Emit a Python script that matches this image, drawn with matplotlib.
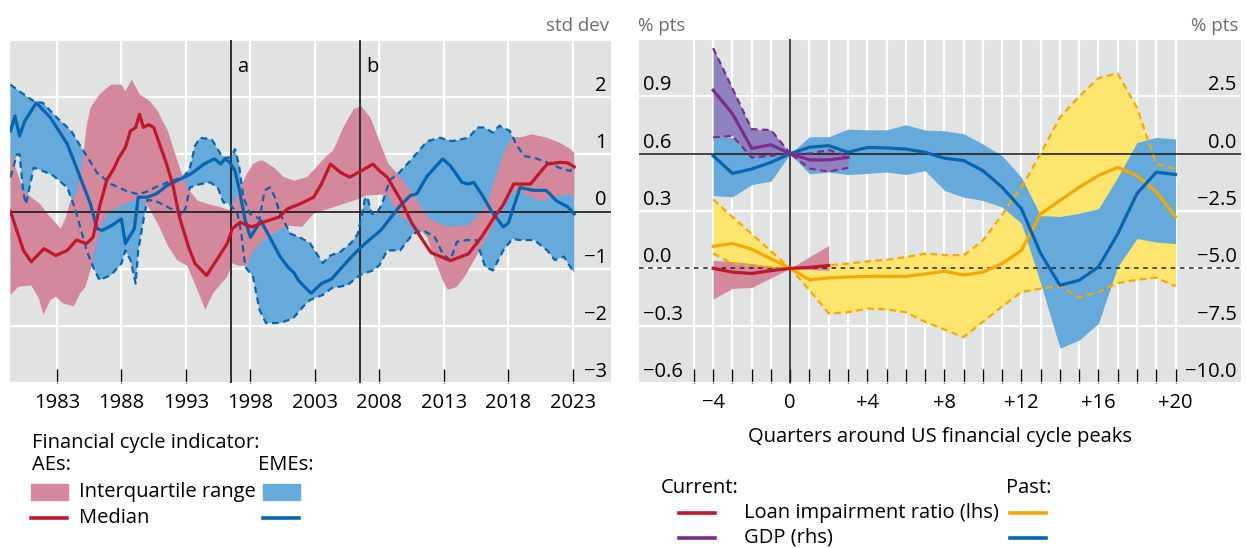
import numpy as np
import matplotlib.pyplot as plt
from matplotlib.lines import Line2D
from matplotlib.patches import Rectangle

plt.rcParams['font.family'] = ['Open Sans', 'DejaVu Sans']

# ---------------- left panel: financial cycle indicator (std dev) ----------------
ae_med_yr = [1979.4, 1980.4, 1981.0, 1982.0, 1982.9, 1983.8, 1984.5, 1985.3, 1985.8, 1986.3,
             1986.85, 1987.4, 1987.8, 1988.3, 1988.7, 1989.1, 1989.4, 1989.7, 1990.1, 1990.5,
             1991.0, 1991.5, 1992.0, 1992.5, 1993.2, 1993.7, 1994.6, 1995.2, 1996.2, 1996.6,
             1997.2, 1998.1, 1999.2, 2000.2, 2000.9, 2001.8, 2002.9, 2003.5, 2004.2, 2005.0,
             2005.7, 2006.5, 2007.5, 2008.0, 2008.6, 2009.6, 2010.5, 2011.2, 2012.0, 2013.5,
             2014.9, 2015.9, 2016.9, 2017.6, 2018.4, 2019.7, 2021.0, 2022.0, 2022.6, 2023.1]
ae_med = [0.0, -0.68, -0.88, -0.65, -0.77, -0.68, -0.5, -0.56, -0.45, 0.08,
          0.54, 0.75, 0.94, 1.12, 1.41, 1.47, 1.70, 1.47, 1.52, 1.47,
          1.15, 0.83, 0.45, -0.1, -0.62, -0.91, -1.12, -0.91, -0.56, -0.3,
          -0.19, -0.27, -0.17, -0.1, 0.05, 0.13, 0.25, 0.48, 0.83, 0.68,
          0.6, 0.7, 0.83, 0.71, 0.6, 0.22, -0.2, -0.45, -0.72, -0.86,
          -0.74, -0.45, -0.1, 0.12, 0.48, 0.48, 0.83, 0.86, 0.85, 0.78]

ae_hi_yr = [1979.4, 1979.7, 1980.4, 1981.0, 1981.7, 1982.3, 1982.9, 1983.3, 1983.7, 1984.0,
            1984.5, 1985.0, 1985.3, 1985.6, 1986.3, 1987.2, 1988.0, 1988.3, 1988.8, 1989.4,
            1990.2, 1990.8, 1991.6, 1992.0, 1992.6, 1993.1, 1993.9, 1994.7, 1995.6, 1996.4,
            1997.0, 1997.7, 1998.2, 1998.7, 1999.0, 1999.8, 2000.6, 2001.4, 2002.4, 2003.0,
            2003.9, 2004.4, 2005.2, 2006.0, 2006.6, 2007.3, 2008.0, 2008.7, 2009.4, 2010.4,
            2011.7, 2012.5, 2013.3, 2014.0, 2014.8, 2015.5, 2016.3, 2017.0, 2017.6, 2018.3,
            2019.0, 2019.8, 2021.0, 2022.0, 2022.8, 2023.1]
ae_hi = [1.06, 0.83, 0.37, 0.25, 0.13, -0.05, -0.2, -0.3, -0.1, 0.15,
         0.3, 0.9, 1.5, 1.81, 2.05, 2.22, 2.22, 2.1, 2.31, 2.05,
         1.93, 1.76, 1.41, 1.12, 0.71, 0.42, 0.19, 0.13, 0.08, 0.02,
         0.3, 0.65, 0.83, 0.89, 0.89, 0.77, 0.6, 0.54, 0.6, 0.75,
         0.97, 1.06, 1.47, 1.79, 1.84, 1.64, 1.23, 0.83, 0.66, 0.37,
         -0.1, -0.2, -0.27, -0.25, -0.25, -0.1, 0.1, 0.6, 1.0, 1.3,
         1.3, 1.35, 1.29, 1.2, 1.09, 1.03]

ae_lo_yr = [1979.4, 1980.0, 1981.0, 1981.6, 1981.95, 1982.5, 1982.9, 1983.5, 1984.3, 1984.8,
            1985.2, 1985.6, 1986.0, 1986.5, 1987.0, 1988.0, 1989.0, 1989.7, 1990.3, 1991.0,
            1991.6, 1992.3, 1993.1, 1993.8, 1994.5, 1995.1, 1996.2, 1996.6, 1997.0, 1997.7,
            1998.2, 1999.0, 2000.0, 2001.0, 2002.0, 2002.9, 2004.5, 2006.4, 2007.0, 2008.6,
            2009.6, 2010.5, 2011.7, 2012.3, 2012.9, 2013.3, 2014.0, 2014.6, 2015.5, 2016.3,
            2017.0, 2017.6, 2018.0, 2018.6, 2019.2, 2020.4, 2021.5, 2022.6, 2023.1]
ae_lo = [-1.46, -1.32, -1.29, -1.52, -1.81, -1.55, -1.49, -1.61, -1.66, -1.43,
         -1.32, -1.03, -0.6, -0.2, 0.0, 0.1, 0.2, 0.2, 0.0, -0.3,
         -0.6, -0.85, -0.95, -1.32, -1.72, -1.43, -1.14, -0.9, -0.95, -0.95,
         -0.7, -0.5, -0.35, -0.25, -0.27, -0.04, 0.08, 0.22, 0.28, 0.3,
         -0.1, -0.16, -0.45, -0.85, -1.2, -1.37, -1.32, -1.14, -0.79, -0.45,
         -0.16, 0.08, 0.25, 0.37, 0.31, 0.19, 0.25, 0.31, 0.25]

eme_med_yr = [1979.4, 1979.75, 1980.1, 1980.5, 1981.4, 1982.5, 1983.8, 1984.8, 1985.6, 1986.1,
              1986.5, 1987.2, 1988.0, 1988.3, 1989.0, 1989.3, 1990.0, 1990.7, 1991.5, 1992.3,
              1993.4, 1994.4, 1995.2, 1995.7, 1996.0, 1996.4, 1996.8, 1997.1, 1997.6, 1998.0,
              1998.8, 1999.5, 2000.3, 2000.9, 2001.4, 2001.7, 2002.2, 2002.7, 2003.5, 2004.3,
              2005.0, 2005.8, 2006.6, 2007.4, 2008.1, 2008.9, 2009.6, 2010.4, 2010.9, 2011.7,
              2012.9, 2013.5, 2014.4, 2014.9, 2015.3, 2015.9, 2016.7, 2017.6, 2018.0, 2018.4,
              2018.9, 2019.9, 2020.9, 2021.2, 2021.7, 2022.6, 2023.1]
eme_med = [1.41, 1.67, 1.32, 1.58, 1.9, 1.64, 1.18, 0.6, 0.13, -0.3,
           -0.33, -0.25, -0.13, -0.56, -0.3, 0.25, 0.25, 0.31, 0.45, 0.54,
           0.66, 0.83, 0.92, 0.83, 0.92, 0.86, 0.71, 0.42, -0.16, -0.45,
           -0.16, -0.45, -0.79, -0.97, -1.08, -1.2, -1.32, -1.43, -1.26, -1.18,
           -1.0, -0.8, -0.62, -0.46, -0.33, -0.1, 0.1, 0.28, 0.31, 0.62,
           0.92, 0.8, 0.51, 0.48, 0.51, 0.31, 0.0, -0.27, -0.2, 0.08,
           0.42, 0.37, 0.37, 0.31, 0.19, 0.08, -0.04]

eme_hi_yr = [1979.4, 1980.1, 1981.2, 1981.9, 1983.0, 1984.1, 1984.8, 1985.4, 1986.1, 1987.2,
             1988.4, 1989.3, 1990.0, 1990.6, 1991.9, 1992.8, 1993.3, 1993.7, 1994.1, 1995.0,
             1995.7, 1996.1, 1996.5, 1996.8, 1997.1, 1997.45, 1997.96, 1998.7, 1999.1, 1999.5,
             1999.9, 2000.3, 2001.1, 2001.8, 2002.6, 2003.6, 2004.2, 2005.0, 2005.8, 2006.3,
             2006.6, 2006.9, 2007.1, 2007.4, 2007.8, 2008.2, 2008.8, 2009.4, 2010.4, 2011.7,
             2012.7, 2013.6, 2014.9, 2015.6, 2016.1, 2016.8, 2017.3, 2018.1, 2018.6, 2019.2,
             2020.0, 2021.0, 2022.0, 2022.8, 2023.1]
eme_hi = [2.22, 2.1, 1.93, 1.9, 1.64, 1.41, 1.15, 0.94, 0.68, 0.48,
          0.36, 0.3, 0.35, 0.42, 0.54, 0.6, 0.75, 1.15, 1.29, 1.26,
          1.0, 0.94, 0.95, 1.09, 0.83, 0.25, -0.04, -0.13, 0.37, 0.42,
          0.25, -0.04, -0.39, -0.45, -0.55, -0.9, -0.77, -0.7, -0.55, -0.4,
          -0.1, 0.25, 0.22, -0.04, -0.03, 0.13, 0.55, 0.65, 0.89, 1.23,
          1.29, 1.23, 1.29, 1.47, 1.47, 1.38, 1.5, 1.41, 1.18, 0.97,
          0.94, 0.86, 0.76, 0.71, 0.8]

eme_lo_yr = [1979.4, 1979.9, 1980.1, 1980.4, 1980.6, 1981.2, 1981.9, 1982.7, 1983.8, 1984.4,
             1984.8, 1985.3, 1985.8, 1986.3, 1987.2, 1988.0, 1988.3, 1988.7, 1989.1, 1989.3,
             1989.7, 1990.0, 1990.6, 1991.4, 1992.3, 1992.7, 1993.0, 1993.3, 1994.1, 1994.9,
             1995.5, 1995.9, 1996.4, 1997.0, 1997.3, 1997.6, 1998.2, 1998.7, 1999.2, 2000.3,
             2001.3, 2002.1, 2002.6, 2003.6, 2004.3, 2005.5, 2006.5, 2007.5, 2008.0, 2008.6,
             2009.6, 2010.6, 2011.4, 2012.3, 2012.9, 2013.5, 2014.0, 2014.8, 2015.5, 2016.2,
             2016.8, 2017.6, 2018.3, 2018.9, 2020.0, 2021.0, 2021.6, 2022.3, 2023.1]
eme_lo = [0.6, 1.0, 1.0, 0.31, 0.13, 0.77, 0.71, 0.63, 0.42, 0.05,
          -0.27, -0.68, -0.97, -1.2, -1.11, -0.91, -0.68, -0.85, -1.26, -0.68,
          -0.16, 0.2, 0.19, 0.1, -0.01, -0.07, 0.08, 0.42, 0.48, 0.51,
          0.4, 0.16, 0.13, -0.04, -0.4, -0.97, -1.14, -1.72, -1.95, -1.95,
          -1.87, -1.66, -1.55, -1.46, -1.34, -1.29, -1.11, -1.03, -0.94, -0.68,
          -0.68, -0.39, -0.33, -0.45, -0.74, -0.85, -0.53, -0.5, -0.5, -0.97,
          -1.03, -0.68, -0.48, -0.5, -0.5, -0.68, -0.85, -0.79, -1.08]

event_yr = [1996.5, 2006.5]
event_lbl = ['a', 'b']
year_ticks = [1983, 1988, 1993, 1998, 2003, 2008, 2013, 2018, 2023]
std_ticks = [2, 1, 0, -1, -2, -3]

# ---------------- right panel: quarters around US financial cycle peaks ----------------
q = list(range(-4, 21))
past_loan = [0.115, 0.13, 0.10, 0.05, 0.0, -0.06, -0.05, -0.045, -0.042, -0.042, -0.042, -0.03, -0.015,
             -0.035, -0.02, 0.025, 0.094, 0.285, 0.355, 0.424, 0.485, 0.528, 0.485, 0.40, 0.27]
past_loan_hi = [0.36, 0.27, 0.18, 0.09, 0.0, 0.007, 0.016, 0.025, 0.036, 0.045, 0.059, 0.077, 0.07,
                0.068, 0.146, 0.28, 0.424, 0.60, 0.79, 0.90, 0.995, 1.02, 0.84, 0.546, 0.52]
past_loan_lo = [0.077, 0.025, 0.016, 0.007, 0.0, -0.115, -0.236, -0.23, -0.21, -0.215, -0.23, -0.28, -0.32,
                -0.36, -0.28, -0.2, -0.124, -0.106, -0.094, -0.153, -0.124, -0.077, -0.06, -0.049, -0.094]
past_gdp = [-0.09, -0.86, -0.67, -0.38, 0.0, 0.28, 0.35, 0.06, 0.27, 0.25, 0.2, 0.06, -0.2,
            -0.3, -0.74, -1.46, -2.4, -4.35, -5.74, -5.52, -4.94, -3.5, -1.74, -0.81, -0.91]
past_gdp_hi = [0.78, 0.71, 0.43, 0.14, 0.0, 0.74, 0.74, 1.07, 1.04, 1.04, 1.26, 1.03, 1.0,
               0.87, 0.42, -0.09, -1.03, -2.7, -2.74, -2.6, -2.4, -1.03, 0.49, 0.71, 0.64]
past_gdp_lo = [-1.83, -1.88, -1.35, -1.2, 0.0, -0.88, -0.8, -0.91, -0.86, -0.8, -0.91, -0.74, -1.6,
               -1.9, -2.04, -2.33, -3.04, -5.65, -8.48, -8.13, -7.4, -4.93, -3.7, -3.85, -3.92]

q_cur_loan = list(range(-4, 3))
cur_loan = [0.0, -0.02, -0.027, -0.012, 0.0, 0.005, 0.015]
cur_loan_hi = [0.042, 0.035, 0.025, 0.01, 0.0, 0.06, 0.12]
cur_loan_lo = [-0.16, -0.105, -0.10, -0.05, 0.0, -0.007, -0.01]
q_cur_gdp = list(range(-4, 4))
cur_gdp = [2.77, 1.74, 0.23, 0.39, 0.0, -0.27, -0.27, -0.16]
cur_gdp_hi = [4.6, 2.84, 1.07, 1.03, 0.0, 0.01, 0.16, -0.1]
cur_gdp_lo = [0.71, 0.78, -0.17, -0.09, 0.0, -0.65, -0.78, -0.62]

q_ticks = list(range(-5, 21))
q_labels = {-4: '\u22124', 0: '0', 4: '+4', 8: '+8', 12: '+12', 16: '+16', 20: '+20'}
lhs_ticks = [0.9, 0.6, 0.3, 0.0, -0.3, -0.6]
rhs_ticks = [2.5, 0.0, -2.5, -5.0, -7.5, -10.0]

# colours
BG = '#e1e2e2'
PINK = '#d4889b'
LBLUE = '#66aadb'
RED = '#c1172d'
BLUE = '#0764ae'
PURPLE = '#7b2d8e'
LPURPLE = '#8d82bf'
YELLOW = '#fde56e'
ORANGE = '#f6a800'
GREYTXT = '#6e6e6e'

FS = 14.5
LW_MED = 2.3
LW_DASH = 1.6
DASH = (0, (3, 2))
W, H = 1246, 548
fig = plt.figure(figsize=(W / 100, H / 100), dpi=100)


def fx(px):
    return px / W


def fy(py):
    return 1 - py / H


def fmt(v, nd):
    s = f'{abs(v):.{nd}f}'
    return ('\u2212' + s) if v < 0 else s


def style_axes(ax):
    ax.set_facecolor(BG)
    for s in ax.spines.values():
        s.set_visible(False)
    ax.grid(True, color='white', lw=1.6)
    ax.set_axisbelow(True)
    ax.tick_params(axis='x', direction='in', length=10, width=1, color='black',
                   labelsize=FS, pad=7)
    ax.tick_params(axis='y', length=0, labelleft=False)


# ---------------- left panel ----------------
ax = fig.add_axes([fx(10), fy(383), fx(611) - fx(10), fy(40) - fy(383)])
style_axes(ax)
ax.set_xlim(1979.36, 2025.95)
ax.set_ylim(-3, 3)
ax.set_yticks([-3, -2, -1, 0, 1, 2, 3])
ax.set_xticks(year_ticks)
ax.set_xticklabels([str(y) for y in year_ticks])

ax.fill(np.r_[eme_hi_yr, eme_lo_yr[::-1]], np.r_[eme_hi, eme_lo[::-1]],
        color=LBLUE, lw=0, zorder=2)
ax.fill(np.r_[ae_hi_yr, ae_lo_yr[::-1]], np.r_[ae_hi, ae_lo[::-1]],
        color=PINK, lw=0, zorder=3)
ax.axhline(0, color='#222222', lw=1.3, zorder=4)
for yr, lb in zip(event_yr, event_lbl):
    ax.axvline(yr, color='#222222', lw=1.3, zorder=4)
    ax.text(yr + 0.45, 2.52, lb, fontsize=FS, va='center', ha='left', zorder=8)
ax.plot(eme_hi_yr, eme_hi, color=BLUE, lw=LW_DASH, ls=DASH, zorder=5)
ax.plot(eme_lo_yr, eme_lo, color=BLUE, lw=LW_DASH, ls=DASH, zorder=5)
ax.plot(eme_med_yr, eme_med, color=BLUE, lw=LW_MED, zorder=6)
ax.plot(ae_med_yr, ae_med, color=RED, lw=LW_MED, zorder=7)

for v in std_ticks:
    ax.text(0.993, v + 0.02, fmt(v, 0), transform=ax.get_yaxis_transform(),
            ha='right', va='bottom', fontsize=FS)
fig.text(fx(609), fy(26), 'std dev', ha='right', va='center', fontsize=13.5, color=GREYTXT)

# ---------------- right panel ----------------
def rhs(v):
    # rhs scale (-10..5) mapped onto the lhs scale (-0.6..1.2)
    return 0.6 + np.asarray(v, dtype=float) * 0.12


bx = fig.add_axes([fx(639), fy(383), fx(1241) - fx(639), fy(39) - fy(383)])
style_axes(bx)
bx.set_xlim(-7.85, 23.4)
bx.set_ylim(-0.6, 1.2)
bx.set_yticks([-0.6, -0.3, 0.0, 0.3, 0.6, 0.9, 1.2])
bx.set_xticks(q_ticks)
bx.set_xticklabels([q_labels.get(t, '') for t in q_ticks])

bx.fill_between(q, past_loan_lo, past_loan_hi, color=YELLOW, lw=0, zorder=2)
bx.fill_between(q, rhs(past_gdp_lo), rhs(past_gdp_hi), color=LBLUE, lw=0, zorder=3)
bx.fill_between(q_cur_loan, cur_loan_lo, cur_loan_hi, color=PINK, lw=0, zorder=4)
bx.fill_between(q_cur_gdp, rhs(cur_gdp_lo), rhs(cur_gdp_hi), color=LPURPLE, lw=0, zorder=4)

bx.axhline(rhs(0.0), color='#222222', lw=1.2, zorder=5)
bx.axhline(0.0, color='#222222', lw=1.1, ls=(0, (3, 3)), zorder=5)
bx.axvline(0, color='#222222', lw=1.2, zorder=5)

bx.plot(q, past_loan_hi, color=ORANGE, lw=LW_DASH, ls=DASH, zorder=6)
bx.plot(q, past_loan_lo, color=ORANGE, lw=LW_DASH, ls=DASH, zorder=6)
bx.plot(q_cur_gdp, rhs(cur_gdp_hi), color=PURPLE, lw=LW_DASH, ls=DASH, zorder=6)
bx.plot(q_cur_gdp, rhs(cur_gdp_lo), color=PURPLE, lw=LW_DASH, ls=DASH, zorder=6)
bx.plot(q, past_loan, color=ORANGE, lw=LW_MED, zorder=7)
bx.plot(q, rhs(past_gdp), color=BLUE, lw=LW_MED, zorder=7)
bx.plot(q_cur_loan, cur_loan, color=RED, lw=LW_MED, zorder=8)
bx.plot(q_cur_gdp, rhs(cur_gdp), color=PURPLE, lw=LW_MED, zorder=8)

for v, r in zip(lhs_ticks, rhs_ticks):
    bx.text(0.006, v + 0.006, fmt(v, 1), transform=bx.get_yaxis_transform(),
            ha='left', va='bottom', fontsize=FS)
    bx.text(0.993, v + 0.006, fmt(r, 1), transform=bx.get_yaxis_transform(),
            ha='right', va='bottom', fontsize=FS)
fig.text(fx(638), fy(26), '% pts', ha='left', va='center', fontsize=13.5, color=GREYTXT)
fig.text(fx(1238), fy(26), '% pts', ha='right', va='center', fontsize=13.5, color=GREYTXT)
fig.text(fx(940), fy(437), 'Quarters around US financial cycle peaks', ha='center',
         va='center', fontsize=FS)

# ---------------- legends ----------------
def leg_patch(x0, yc, color):
    fig.add_artist(Rectangle((fx(x0), fy(yc + 8)), fx(37), 16 / H, color=color,
                             transform=fig.transFigure))


def leg_line(x0, yc, color):
    fig.add_artist(Line2D([fx(x0), fx(x0 + 36)], [fy(yc), fy(yc)], color=color, lw=2.6,
                          transform=fig.transFigure))


fig.text(fx(32), fy(443), 'Financial cycle indicator:', va='center', fontsize=FS)
fig.text(fx(32), fy(465), 'AEs:', va='center', fontsize=FS)
fig.text(fx(258), fy(465), 'EMEs:', va='center', fontsize=FS)
leg_patch(31, 492, PINK)
fig.text(fx(79), fy(492), 'Interquartile range', va='center', fontsize=FS)
leg_patch(263, 492, LBLUE)
leg_line(31, 518, RED)
fig.text(fx(79), fy(518), 'Median', va='center', fontsize=FS)
leg_line(263, 518, BLUE)

fig.text(fx(661), fy(488), 'Current:', va='center', fontsize=FS)
fig.text(fx(1006), fy(488), 'Past:', va='center', fontsize=FS)
leg_line(679, 513, RED)
fig.text(fx(744), fy(513), 'Loan impairment ratio (lhs)', va='center', fontsize=FS)
leg_line(1010, 513, ORANGE)
leg_line(679, 538, PURPLE)
fig.text(fx(744), fy(538), 'GDP (rhs)', va='center', fontsize=FS)
leg_line(1010, 538, BLUE)

fig.savefig('out.png', dpi=100)
